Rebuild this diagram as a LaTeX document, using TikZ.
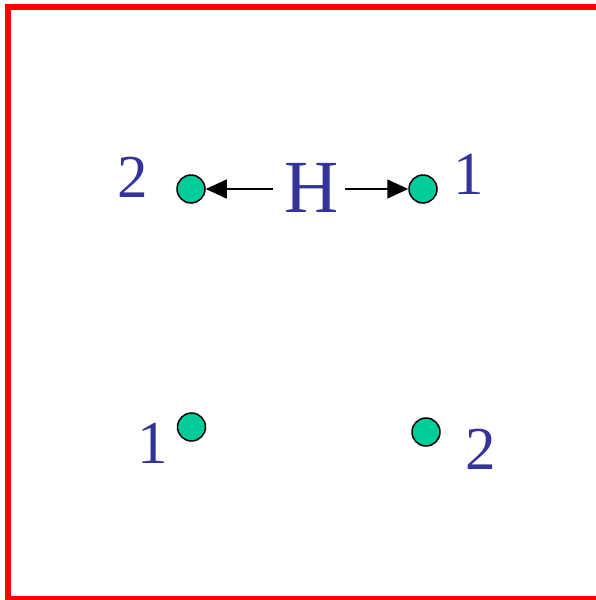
\documentclass[tikz,border=0pt]{standalone}
\usepackage{fontspec}
\setmainfont{Liberation Serif}
\usetikzlibrary{arrows.meta,positioning}
\definecolor{framered}{RGB}{255,0,0}
\definecolor{dotgreen}{RGB}{0,204,153}
\definecolor{labelblue}{RGB}{51,51,153}

\begin{document}
\begin{tikzpicture}[x=1pt, y=-1pt, >={Triangle[length=21pt,width=19pt]},
      dot/.style={circle, draw=black, line width=1.5pt, fill=dotgreen,
                  minimum size=28pt, inner sep=0pt},
      num/.style={text=labelblue, font=\fontsize{61}{70}\selectfont, inner sep=0pt},
      arr/.style={->, line width=1.5pt}
    ]
    \clip (0,0) rectangle (596,600);
    \draw[framered, line width=6pt] (8,7) rectangle (640,599);

    % upper pair
    \node[dot] (a2) at (191,189) {};
    \node[dot] (a1) at (423,189) {};
    \node[text=labelblue, font=\fontsize{75}{85}\selectfont, inner sep=0pt]
      (h) at (312,188) {H};
    \coordinate (hl) at (273,189);
    \coordinate (hr) at (345,189);
    \draw[arr] (hl) -- (a2);
    \draw[arr] (hr) -- (a1);
    \node[num] (l2) at (133,177.5) {2};
    \node[num] (l1) at (469,174) {1};

    % lower pair
    \node[dot] (b1) at (191.5,427) {};
    \node[dot] (b2) at (426,432) {};
    \node[num] (m1) at (152.5,443.5) {1};
    \node[num] (m2) at (481,449.5) {2};
  \end{tikzpicture}
\end{document}
